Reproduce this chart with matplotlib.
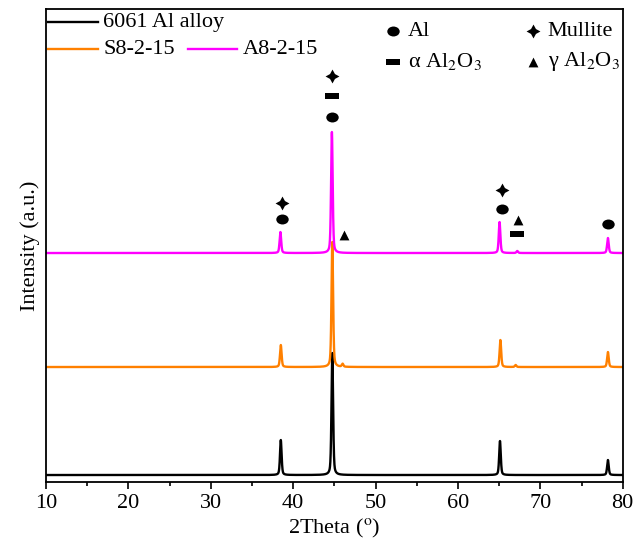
import numpy as np
import matplotlib
matplotlib.use("Agg")
import matplotlib.pyplot as plt
from matplotlib.path import Path
from matplotlib.lines import Line2D

plt.rcParams['font.family'] = ['Liberation Serif', 'DejaVu Serif']
plt.rcParams['mathtext.fontset'] = 'stix'

# Diffraction peaks per sample: positions (2theta, deg) and intensities above baseline
samples = ["6061 Al alloy", "S8-2-15", "A8-2-15"]
colors = ["#000000", "#ff8000", "#ff00ff"]
baselines = [7, 115, 229]
peak_pos = {
    "6061 Al alloy": [38.5, 44.75, 65.1, 78.2],
    "S8-2-15": [38.5, 44.75, 46.0, 65.15, 67.0, 78.2],
    "A8-2-15": [38.45, 44.7, 65.05, 67.2, 78.2],
}
peak_int = {
    "6061 Al alloy": [35, 122, 34, 15],
    "S8-2-15": [22, 125, 3, 27, 2, 15],
    "A8-2-15": [21, 121, 31, 2, 15],
}

# Phase markers above the A8-2-15 pattern: (2theta, height, phase)
mark_x = [38.6, 38.6, 44.7, 44.7, 44.7, 46.15, 65.3, 65.3, 67.3, 67.2, 78.2]
mark_y = [263, 279, 365, 386, 406, 247, 273, 292, 262, 248, 258]
mark_phase = ["Al", "Mullite", "Al", "alpha", "Mullite", "gamma",
              "Al", "Mullite", "gamma", "alpha", "Al"]

ellipse = Path.unit_circle()
ellipse = Path(ellipse.vertices * np.array([1.25, 1.0]), ellipse.codes)
rect = Path([(-1, -0.5), (1, -0.5), (1, 0.5), (-1, 0.5), (-1, -0.5)],
            [Path.MOVETO, Path.LINETO, Path.LINETO, Path.LINETO, Path.CLOSEPOLY])
marker_style = {
    "Al": dict(marker=ellipse, s=80),
    "alpha": dict(marker=rect, s=95),
    "Mullite": dict(marker=(4, 1, 0), s=100),
    "gamma": dict(marker="^", s=50),
}


def profile(x, centers, heights, w=0.11):
    y = np.zeros_like(x)
    for c, h in zip(centers, heights):
        lor = 1.0 / (1.0 + ((x - c) / w) ** 2)
        gau = np.exp(-0.5 * ((x - c) / (w * 0.9)) ** 2)
        y += h * (0.45 * lor + 0.55 * gau)
    return y


two_theta = np.linspace(10, 80, 7001)
FS = 16

fig = plt.figure(figsize=(6.43, 5.5), dpi=100)
ax = fig.add_axes([0.0715, 0.1236, 0.8970, 0.8600])

for name, col, base in zip(samples, colors, baselines):
    y = base + profile(two_theta, peak_pos[name], peak_int[name])
    ax.plot(two_theta, y, color=col, lw=1.7)

for x, y, ph in zip(mark_x, mark_y, mark_phase):
    ax.scatter([x], [y], color="black", linewidths=0, zorder=5, **marker_style[ph])

ax.set_xlim(10, 80)
ax.set_ylim(0, 473)
ax.set_xticks(np.arange(10, 81, 10))
ax.set_xticks(np.arange(15, 80, 10), minor=True)
ax.set_yticks([])
ax.tick_params(axis="x", which="major", direction="out", length=5, width=1.2,
               labelsize=FS, top=False)
ax.tick_params(axis="x", which="minor", direction="out", length=3, width=1.2, top=False)
for sp in ax.spines.values():
    sp.set_linewidth(1.3)

ax.set_xlabel("2Theta ($^{\\rm o}$)", fontsize=FS, labelpad=3)
ax.set_ylabel("Intensity (a.u.)", fontsize=FS)

# Sample key (line swatches with labels)
key_rows = [(0.0035, 0.9725, 0), (0.0035, 0.9154, 1), (0.246, 0.9154, 2)]
for kx, ky, i in key_rows:
    ax.add_line(Line2D([kx, kx + 0.086], [ky, ky], transform=ax.transAxes,
                       color=colors[i], lw=1.7))
    ax.text(kx + 0.096, ky, samples[i], transform=ax.transAxes, fontsize=FS,
            va="center", ha="left")

# Phase key
key = [("Al", 0.601, 0.9535, "Al"),
       ("alpha", 0.601, 0.888, "\u03b1 Al$_2$O$_3$"),
       ("Mullite", 0.844, 0.9535, "Mullite"),
       ("gamma", 0.844, 0.888, "\u03b3 Al$_2$O$_3$")]
for ph, kx, ky, txt in key:
    ax.scatter([kx], [ky], transform=ax.transAxes, color="black", linewidths=0,
               zorder=5, **marker_style[ph])
    ax.text(kx + 0.026, ky, txt, transform=ax.transAxes, fontsize=FS,
            va="center", ha="left")

fig.savefig("out.png", dpi=100)
